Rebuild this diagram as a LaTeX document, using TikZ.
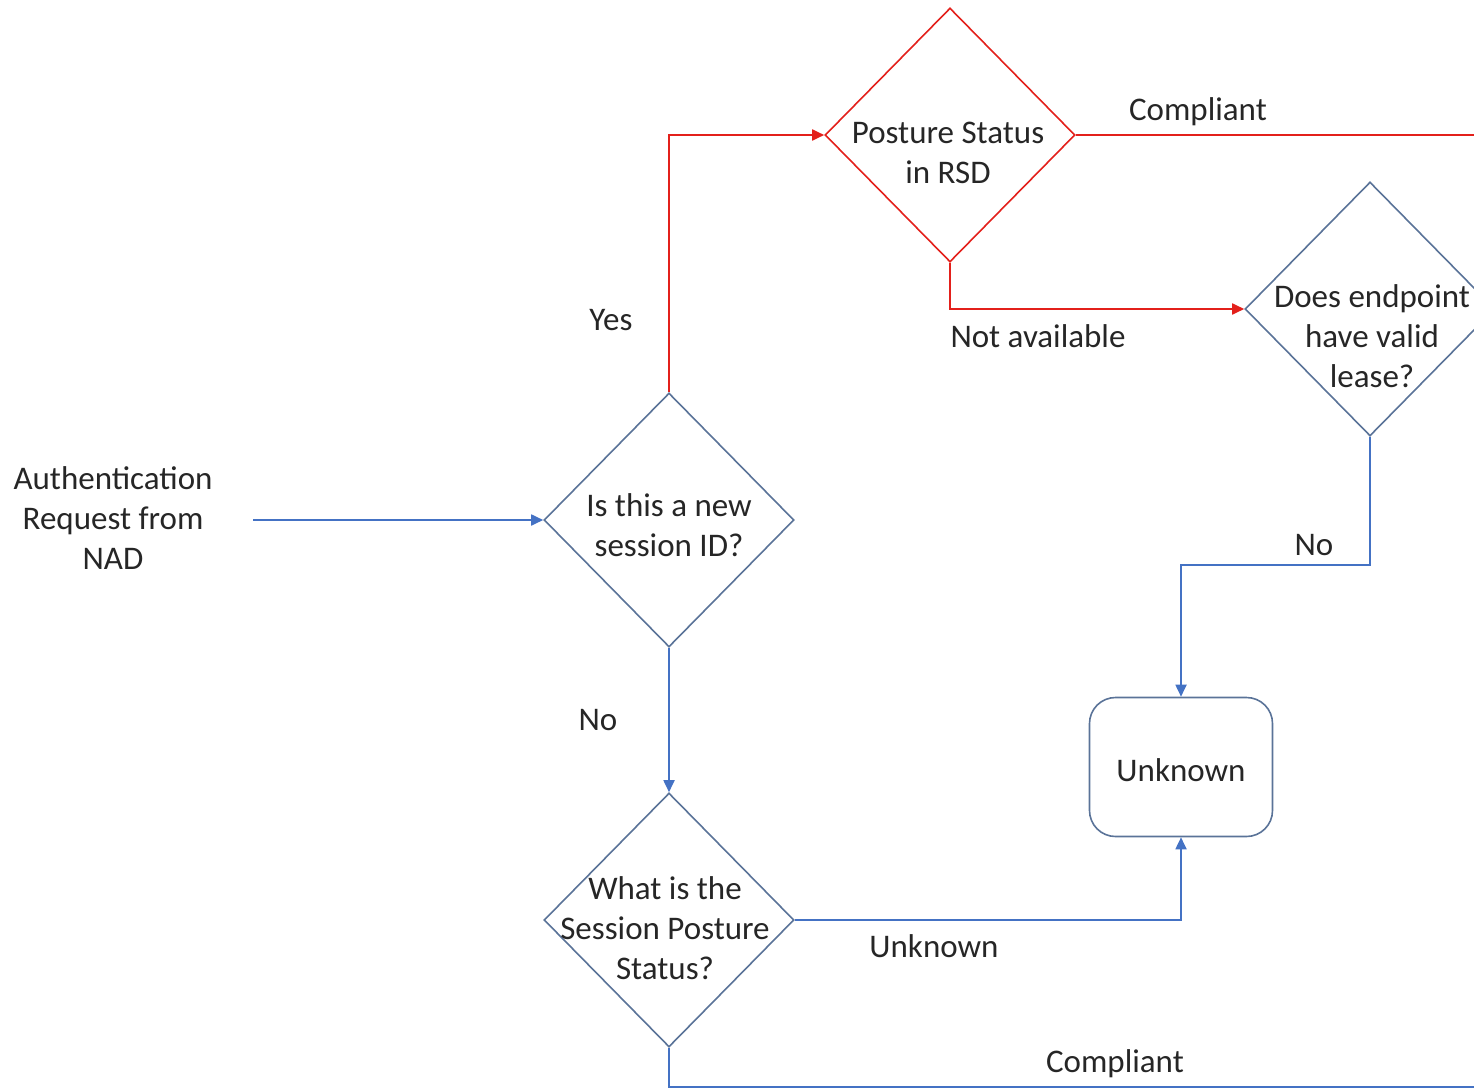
\documentclass[tikz,border=0pt]{standalone}
\usepackage{fontspec}
\setmainfont{Carlito}
\usetikzlibrary{shapes.geometric,arrows.meta}
\definecolor{flowblue}{HTML}{4472C4}
\definecolor{flowred}{HTML}{E3201B}
\definecolor{edgegray}{HTML}{5A7398}
\begin{document}
\begin{tikzpicture}[x=1pt,y=-1pt,
  txt/.style={font=\fontsize{33}{40}\selectfont, inner sep=0pt, align=center, text=black!85},
  decision/.style={diamond, draw=edgegray, line width=1.6pt, inner sep=0pt,
    minimum width=250pt, minimum height=254pt},
  roundbox/.style={draw=edgegray, line width=1.6pt, rounded corners=26pt,
    minimum width=183pt, minimum height=139pt, inner sep=0pt},
  flow/.style={line width=1.8pt, -{Triangle[length=12pt,width=11pt]}},
  blueflow/.style={flow, draw=flowblue, -{Triangle[length=12pt,width=11pt,fill=flowblue]}},
  redflow/.style={flow, draw=flowred, -{Triangle[length=12pt,width=11pt,fill=flowred]}},
  plainred/.style={line width=1.8pt, draw=flowred},
  plainblue/.style={line width=1.8pt, draw=flowblue}]
\useasboundingbox (0,0) rectangle (1474,1089);
\clip (0,0) rectangle (1474,1089);

% decision shapes
\node[decision] (newsess) at (669,520) {};
\node[decision, draw=flowred] (rsd) at (950,135) {};
\node[decision] (lease) at (1370,309) {};
\node[decision] (sessposture) at (669,920) {};
\node[roundbox] (unknownbox) at (1181,767) {};

% texts inside shapes
\node[txt] (newsesstxt) at (669,525) {Is this a new\\session ID?};
\node[txt] (rsdtxt) at (948,153) {Posture Status\\in RSD};
\node[txt] (leasetxt) at (1372,336) {Does endpoint\\have valid\\lease?};
\node[txt] (sesstxt) at (665,928) {What is the\\Session Posture\\Status?};
\node[txt] (unknowntxt) at (1181,770) {Unknown};

% request source
\node[txt] (auth) at (113,518) {Authentication\\Request from\\NAD};
\coordinate (authout) at (253,520);

% connectors
\draw[blueflow] (authout) -- (newsess.west);
\draw[redflow] (newsess.north) |- (rsd.west);
\coordinate (rsdexit) at (1480,135);
\draw[plainred] (rsd.east) -- (rsdexit);
\draw[redflow] (rsd.south) |- (lease.west);
\coordinate (leasebend) at (1370,565);
\draw[blueflow] (lease.south) -- (leasebend) -| (unknownbox.north);
\draw[blueflow] (newsess.south) -- (sessposture.north);
\draw[blueflow] (sessposture.east) -| (unknownbox.south);
\coordinate (bottomexit) at (1480,1087);
\draw[plainblue] (sessposture.south) |- (bottomexit);

% connector labels
\node[txt] (yeslbl) at (611,320) {Yes};
\node[txt] (complbl) at (1198,112) {Compliant};
\node[txt] (nalbl) at (1038,336) {Not available};
\node[txt] (nolbl1) at (1314,545) {No};
\node[txt] (nolbl2) at (598,720) {No};
\node[txt] (unklbl) at (934,946) {Unknown};
\node[txt] (complbl2) at (1115,1064) {Compliant};
\end{tikzpicture}
\end{document}
